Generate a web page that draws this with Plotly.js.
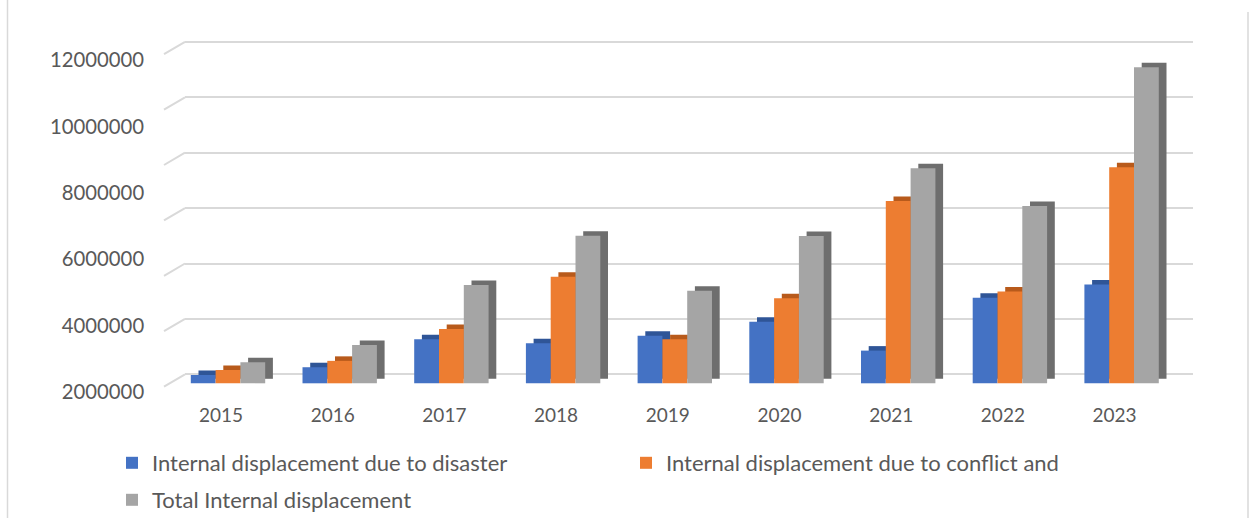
<!DOCTYPE html>
<html>
<head>
<meta charset="utf-8">
<script src="https://cdn.plot.ly/plotly-3.0.1.min.js"></script>
<style>
  html, body { margin: 0; padding: 0; background: #ffffff; }
  #chart { width: 1256px; height: 518px; }
</style>
</head>
<body>
<div id="chart"></div>
<script>
// ---- data ----
const years = ['2015', '2016', '2017', '2018', '2019', '2020', '2021', '2022', '2023'];
const disaster = [300000, 580000, 1590000, 1450000, 1720000, 2220000, 1180000, 3090000, 3570000];
const conflict = [480000, 810000, 1960000, 3850000, 1590000, 3070000, 6580000, 3310000, 7800000];
const total = [760000, 1380000, 3550000, 5330000, 3340000, 5320000, 7760000, 6400000, 11410000];
const seriesNames = ['Internal displacement due to disaster', 'Internal displacement due to conflict and', 'Total Internal displacement'];
const gridTicks = [0, 2000000, 4000000, 6000000, 8000000, 10000000, 12000000];
const labelTicks = [2000000, 4000000, 6000000, 8000000, 10000000, 12000000];

// ---- geometry / style ----
const W = 1256, H = 518;
const plotTop = 30, plotBottom = 400;
const pxPerUnit = 27.7e-6;          // pixels per value unit (bars + grid)
const labelPxPerUnit = 33.15e-6;    // pixels per value unit of the printed (perspective) labels
const barBaseY = 383.3, gridZeroY = 374.3, label2MY = 391.7;
const yDom = [1 - plotBottom / H, 1 - plotTop / H];
const barsRange = [-(plotBottom - barBaseY) / pxPerUnit, (barBaseY - plotTop) / pxPerUnit];
const gridRange = [-(plotBottom - gridZeroY) / pxPerUnit, (gridZeroY - plotTop) / pxPerUnit];
// printed labels sit on the front edge of the 3-D wall: map them onto the bar axis
const labelPos = labelTicks.map(v => (barBaseY - (label2MY - (v - 2000000) * labelPxPerUnit)) / pxPerUnit);
const barsX = [172.15 / W, 1177.45 / W];
const gridX = [185 / W, 1193 / W];
const catPx = (1177.45 - 172.15) / 9;
const bw = 24.8 / catPx;
const dxShadow = 7.7 / catPx;
const dyShadow = 4.5 / pxPerUnit;

const colors = ['#4472C4', '#ED7D31', '#A5A5A5'];
const shadowColors = ['#2F5597', '#B85A1B', '#6E6E6E'];
const offsets = [-1.5 * bw, -0.5 * bw, 0.5 * bw];
const values = [disaster, conflict, total];
const txt = '#595959';
const font = 'Lato, "Open Sans", sans-serif';

const traces = [];
// depth (side + top) faces drawn first
for (let i = 0; i < 3; i++) {
  traces.push({
    type: 'bar', x: years, y: values[i], base: years.map(() => dyShadow),
    xaxis: 'x2', yaxis: 'y2', width: bw, offset: offsets[i] + dxShadow,
    marker: { color: shadowColors[i], line: { width: 0 } },
    showlegend: false, hoverinfo: 'skip'
  });
}
for (let i = 0; i < 3; i++) {
  traces.push({
    type: 'bar', x: years, y: values[i], name: seriesNames[i],
    xaxis: 'x2', yaxis: 'y2', width: bw, offset: offsets[i],
    marker: { color: colors[i], line: { width: 0 } },
    legend: i < 2 ? 'legend' : 'legend2'
  });
}

const shapes = [];
gridTicks.forEach(v => {
  shapes.push({
    type: 'line', xref: 'paper', yref: 'y',
    x0: 164 / W, x1: 185 / W, y0: v - 12.3 / pxPerUnit, y1: v,
    line: { color: '#D9D9D9', width: 2 }, layer: 'below'
  });
});
shapes.push({ type: 'line', xref: 'paper', yref: 'paper', x0: 7.5 / W, x1: 7.5 / W, y0: 0, y1: 1,
  line: { color: '#D9D9D9', width: 1.5 } });
shapes.push({ type: 'line', xref: 'paper', yref: 'paper', x0: 1248 / W, x1: 1248 / W, y0: 0, y1: 1 - 12 / H,
  line: { color: '#D9D9D9', width: 1.5 } });

const layout = {
  width: W, height: H,
  margin: { l: 0, r: 0, t: 0, b: 0, pad: 0, autoexpand: false },
  paper_bgcolor: '#ffffff', plot_bgcolor: 'rgba(0,0,0,0)',
  barmode: 'overlay',
  font: { family: font, color: txt, size: 19 },
  xaxis: { domain: gridX, range: [0, 1], visible: false, fixedrange: true },
  yaxis: {
    domain: yDom, range: gridRange, anchor: 'x',
    tickvals: gridTicks, showticklabels: false, ticks: '',
    showgrid: true, gridcolor: '#D9D9D9', gridwidth: 2,
    zeroline: false, showline: false, fixedrange: true
  },
  xaxis2: {
    domain: barsX, anchor: 'y2', type: 'category', range: [-0.5, 8.5],
    showgrid: false, zeroline: false, showline: false, ticks: '',
    tickfont: { family: font, size: 19, color: txt },
    ticklabelshift: -7, ticklabelstandoff: 2, fixedrange: true
  },
  yaxis2: {
    domain: yDom, anchor: 'x2', range: barsRange, side: 'left',
    tickvals: labelPos, ticktext: labelTicks.map(v => String(v)),
    showgrid: false, zeroline: false, showline: false, ticks: '',
    tickfont: { family: font, size: 20.3, color: txt },
    ticklabelstandoff: 27, fixedrange: true
  },
  legend: {
    orientation: 'h', x: 112 / W, xanchor: 'left', y: 1 - 442 / H, yanchor: 'top',
    entrywidth: 469, entrywidthmode: 'pixels',
    font: { family: font, size: 22, color: txt }, bgcolor: 'rgba(0,0,0,0)', borderwidth: 0,
    traceorder: 'normal'
  },
  legend2: {
    orientation: 'h', x: 112 / W, xanchor: 'left', y: 1 - 479 / H, yanchor: 'top',
    font: { family: font, size: 22, color: txt }, bgcolor: 'rgba(0,0,0,0)', borderwidth: 0
  },
  shapes: shapes,
  showlegend: true
};

Plotly.newPlot('chart', traces, layout, { displayModeBar: false, staticPlot: true });
</script>
</body>
</html>
